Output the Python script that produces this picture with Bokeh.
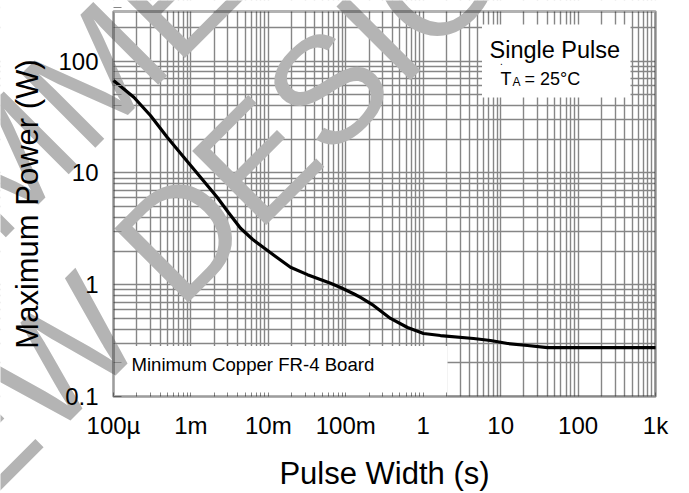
import math
from bokeh.plotting import figure
from bokeh.models import (FixedTicker, Label, BoxAnnotation, Range1d, CustomJSTickFormatter,
                          LogAxis, Grid)
from bokeh.embed import file_html
from bokeh.resources import INLINE

# ---------------- data ----------------
pulse_width = [1e-4, 1.83e-4, 3.0e-4, 4.94e-4, 8.09e-4, 1.33e-3, 2.18e-3, 3.05e-3,
               4.37e-3, 6.24e-3, 8.65e-3, 1.24e-2, 1.93e-2, 3.2e-2, 6.36e-2, 8.55e-2,
               0.126, 0.155, 0.228, 0.378, 0.627, 1.01, 1.67, 4.46, 7.39, 12.3, 22.2,
               40.3, 87, 1000]
max_power = [67, 47.5, 32.6, 20.8, 13.8, 9.15, 6.05, 4.43,
             3.2, 2.55, 2.15, 1.79, 1.43, 1.23, 1.03, 0.945,
             0.83, 0.769, 0.652, 0.499, 0.414, 0.366, 0.351, 0.330, 0.317, 0.298, 0.286,
             0.274, 0.274, 0.274]

x_tick_values = [1e-4, 1e-3, 1e-2, 1e-1, 1, 10, 100, 1000]
x_tick_labels = ["100\u00b5", "1m", "10m", "100m", "1", "10", "100", "1k"]
y_tick_values = [0.1, 1, 10, 100]
y_tick_labels = ["0.1", "1", "10", "100"]

x_label = "Pulse Width (s)"
y_label = "Maximum Power (W)"
note_title = "Single Pulse"
note_board = "Minimum Copper FR-4 Board"
watermark_lines = ["NOT RECOMMENDED", "FOR NEW DESIGN"]

FONT = "Liberation Sans"
GRID = "#868686"
WM_COLOR = "#b4b4b4"

# ---------------- geometry (pixels) ----------------
W, H = 689, 493
L, R, T, B = 113, 655, 11, 396          # plot area edges
X0, X1 = 1e-4, 1e3
Y0 = 0.1
DEC_Y = 111.8
DEC_X = (R - L) / math.log10(X1 / X0)


def dx(px):
    return X0 * 10 ** ((px - L) / DEC_X)


def dy(py):
    return Y0 * 10 ** ((B - py) / DEC_Y)


Y1 = dy(T)

# the frame fills the whole canvas so the watermark can cover the margins
p = figure(width=W, height=H, x_axis_type="log", y_axis_type="log",
           x_range=Range1d(dx(0), dx(W)), y_range=Range1d(dy(H), dy(0)),
           x_axis_location=None, y_axis_location=None,
           output_backend="svg", toolbar_location=None, min_border=0)
p.background_fill_color = "white"
p.border_fill_color = "white"
p.outline_line_color = None
for g in p.grid:
    g.visible = False

x_minor = [k * 10 ** n for n in range(-4, 3) for k in range(2, 10)]
y_minor = [k * 10 ** n for n in range(-1, 3) for k in range(2, 10)]
xt = FixedTicker(ticks=x_tick_values, minor_ticks=x_minor)
yt = FixedTicker(ticks=y_tick_values, minor_ticks=y_minor)

for dim, tk in ((0, xt), (1, yt)):
    p.add_layout(Grid(dimension=dim, ticker=tk, grid_line_color=GRID, grid_line_width=1.4,
                      minor_grid_line_color=GRID, minor_grid_line_width=1.4))

# white margins hide the grid outside the plot area
for kw in (dict(left=dx(-10), right=X0, bottom=dy(H + 10), top=dy(-10)),
           dict(left=X1, right=dx(W + 10), bottom=dy(H + 10), top=dy(-10)),
           dict(left=dx(-10), right=dx(W + 10), bottom=Y1, top=dy(-10)),
           dict(left=dx(-10), right=dx(W + 10), bottom=dy(H + 10), top=Y0)):
    p.add_layout(BoxAnnotation(fill_color="white", fill_alpha=1, line_color=None,
                               level="underlay", **kw))

# white note boxes over the grid
p.add_layout(BoxAnnotation(left=dx(481.5), right=dx(630), top=dy(24), bottom=dy(97),
                           fill_color="white", fill_alpha=1, line_color=None, level="underlay"))
p.add_layout(BoxAnnotation(left=X0, right=dx(447), top=dy(345.5), bottom=Y0,
                           fill_color="white", fill_alpha=1, line_color=None, level="underlay"))

# axes
fmt_code = """
const i = vals.findIndex(v => Math.abs(Math.log10(v) - Math.log10(tick)) < 1e-6);
return i >= 0 ? labs[i] : "";
"""
xaxis = LogAxis(ticker=xt, fixed_location=Y0, bounds=(X0, X1),
                formatter=CustomJSTickFormatter(args=dict(vals=x_tick_values, labs=x_tick_labels), code=fmt_code))
yaxis = LogAxis(ticker=yt, fixed_location=X0, bounds=(Y0, Y1),
                formatter=CustomJSTickFormatter(args=dict(vals=y_tick_values, labs=y_tick_labels), code=fmt_code))
for ax in (xaxis, yaxis):
    ax.level = "overlay"
    ax.axis_line_color = None
    ax.major_tick_out = 0
    ax.minor_tick_out = 0
    ax.major_tick_line_color = GRID
    ax.minor_tick_line_color = GRID
    ax.major_label_text_font = FONT
    ax.major_label_text_font_size = "24px"
    ax.major_label_text_color = "black"
    ax.axis_label_text_font = FONT
    ax.axis_label_text_font_size = "31px"
    ax.axis_label_text_font_style = "normal"
    ax.axis_label_text_color = "black"
    ax.major_label_standoff = 15
xaxis.major_tick_in = 4
xaxis.minor_tick_in = 4
yaxis.major_tick_in = 8
yaxis.minor_tick_in = 8
xaxis.axis_label = x_label
yaxis.axis_label = y_label
xaxis.axis_label_standoff = 14
yaxis.axis_label_standoff = 10
p.add_layout(xaxis, "below")
p.add_layout(yaxis, "left")

# watermark (above grid, below curve, axes and frame)
WM_SIZE = 152
WM_ANGLE = math.pi / 4
for txt, (px, py) in zip(watermark_lines, [(-45, 212), (79, 336)]):
    p.add_layout(Label(x=dx(px), y=dy(py), text=txt, angle=WM_ANGLE,
                       text_align="center", text_baseline="alphabetic",
                       text_font=FONT, text_font_size=f"{WM_SIZE}px",
                       text_color=WM_COLOR, level="annotation"))

# frame border
p.add_layout(BoxAnnotation(left=X0, right=X1, bottom=Y0, top=Y1, fill_alpha=0,
                           line_color="black", line_width=3, level="overlay"))

# curve
curve = p.line(pulse_width, max_power, line_color="black", line_width=3.2)
curve.level = "overlay"

# notes
p.add_layout(Label(x=dx(489), y=dy(49), text=note_title, text_font=FONT,
                   text_font_size="23.5px", text_color="black", text_baseline="alphabetic"))
p.add_layout(Label(x=dx(500), y=dy(78), text="T", text_font=FONT,
                   text_font_size="18px", text_color="black", text_baseline="alphabetic"))
p.add_layout(Label(x=dx(512), y=dy(81), text="A", text_font=FONT,
                   text_font_size="12px", text_color="black", text_baseline="alphabetic"))
p.add_layout(Label(x=dx(524), y=dy(78), text="= 25\u00b0C", text_font=FONT,
                   text_font_size="18px", text_color="black", text_baseline="alphabetic"))
p.add_layout(Label(x=dx(499.5), y=dy(60.5), text=".", text_font=FONT,
                   text_font_size="10px", text_color="black", text_baseline="alphabetic"))
p.add_layout(Label(x=dx(131), y=dy(363.5), text=note_board, text_font=FONT,
                   text_font_size="18.6px", text_color="black", text_baseline="alphabetic"))

open("out.html", "w").write(file_html(p, INLINE))
